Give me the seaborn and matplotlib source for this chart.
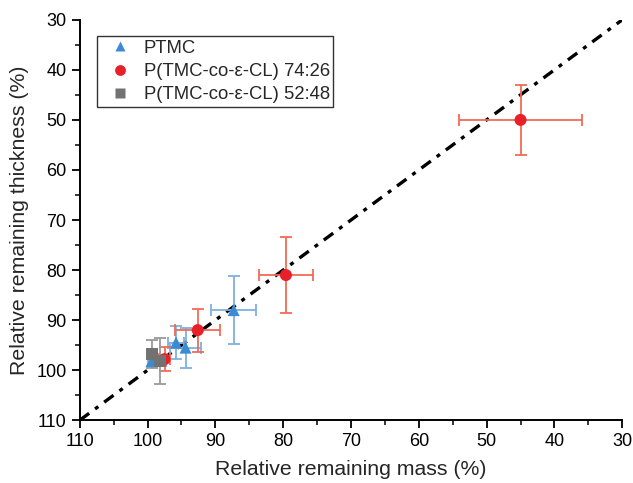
import pandas as pd
import seaborn as sns
import matplotlib.pyplot as plt

# data
samples = ["PTMC", "P(TMC-co-ε-CL) 74:26", "P(TMC-co-ε-CL) 52:48"]

ptmc_mass = [87.3, 95.8, 94.4, 99.4]
ptmc_thick = [88.0, 94.5, 95.5, 98.2]
ptmc_xerr = [3.3, 1.2, 2.3, 0.6]
ptmc_yerr = [6.8, 3.3, 4.0, 1.0]

c74_mass = [45.0, 79.6, 92.6, 97.5]
c74_thick = [50.0, 81.0, 92.0, 97.8]
c74_xerr = [9.0, 4.0, 3.3, 0.8]
c74_yerr = [7.0, 7.6, 4.3, 2.4]

c52_mass = [99.3, 98.1]
c52_thick = [96.7, 98.2]
c52_xerr = [0.6, 0.8]
c52_yerr = [2.8, 4.6]

diag = [110, 30]

colors = {samples[0]: "#3a8ad4", samples[1]: "#e8202a", samples[2]: "#727272"}
err_colors = {samples[0]: "#7fb0e0", samples[1]: "#f26a55", samples[2]: "#9a9a9a"}
markers = {samples[0]: "^", samples[1]: "o", samples[2]: "s"}

df = pd.concat([
    pd.DataFrame({"sample": samples[0], "mass": ptmc_mass, "thick": ptmc_thick,
                  "xerr": ptmc_xerr, "yerr": ptmc_yerr}),
    pd.DataFrame({"sample": samples[1], "mass": c74_mass, "thick": c74_thick,
                  "xerr": c74_xerr, "yerr": c74_yerr}),
    pd.DataFrame({"sample": samples[2], "mass": c52_mass, "thick": c52_thick,
                  "xerr": c52_xerr, "yerr": c52_yerr}),
], ignore_index=True)

sns.set_style("ticks")
plt.rcParams["font.family"] = ["Liberation Sans", "DejaVu Sans"]

fig = plt.figure(figsize=(6.33, 4.83), dpi=100)
ax = fig.add_axes([0.126, 0.130, 0.857, 0.829])

# 1:1 reference line
ax.plot(diag, diag, color="black", lw=2.4, dashes=[3.5, 2.2, 1.2, 2.2], zorder=1)

for s in samples:
    sub = df[df["sample"] == s]
    ax.errorbar(sub["mass"], sub["thick"], xerr=sub["xerr"], yerr=sub["yerr"],
                fmt="none", ecolor=err_colors[s], elinewidth=1.3, capsize=4,
                capthick=1.3, zorder=2)

sns.scatterplot(data=df, x="mass", y="thick", hue="sample", style="sample",
                palette=colors, markers=markers, s=75, edgecolor="none",
                ax=ax, zorder=3)

ax.set_xlim(110, 30)
ax.set_ylim(110, 30)
ax.set_xticks(range(110, 29, -10))
ax.set_yticks(range(30, 111, 10))
ax.set_xticks(range(105, 30, -10), minor=True)
ax.set_yticks(range(35, 110, 10), minor=True)
ax.tick_params(which="major", direction="out", length=6, width=1.3, labelsize=13, colors="black")
ax.tick_params(which="minor", direction="out", length=3.5, width=1.3)

ax.set_xlabel("Relative remaining mass (%)", fontsize=15.3, labelpad=7)
ax.set_ylabel("Relative remaining thickness (%)", fontsize=15.3, labelpad=5)

sns.despine(ax=ax)
for sp in ["left", "bottom"]:
    ax.spines[sp].set_linewidth(1.4)
    ax.spines[sp].set_color("black")

handles, labels = ax.get_legend_handles_labels()
leg = ax.legend(handles, labels, loc="upper left", bbox_to_anchor=(0.031, 0.96),
                borderaxespad=0, fontsize=13.3, frameon=True, fancybox=False,
                edgecolor="black", borderpad=0.2, handlelength=2.1,
                handletextpad=0.25, labelspacing=0.35, markerscale=0.9)
leg.get_frame().set_linewidth(1.0)

fig.savefig("out.png", dpi=100)
plt.close(fig)
